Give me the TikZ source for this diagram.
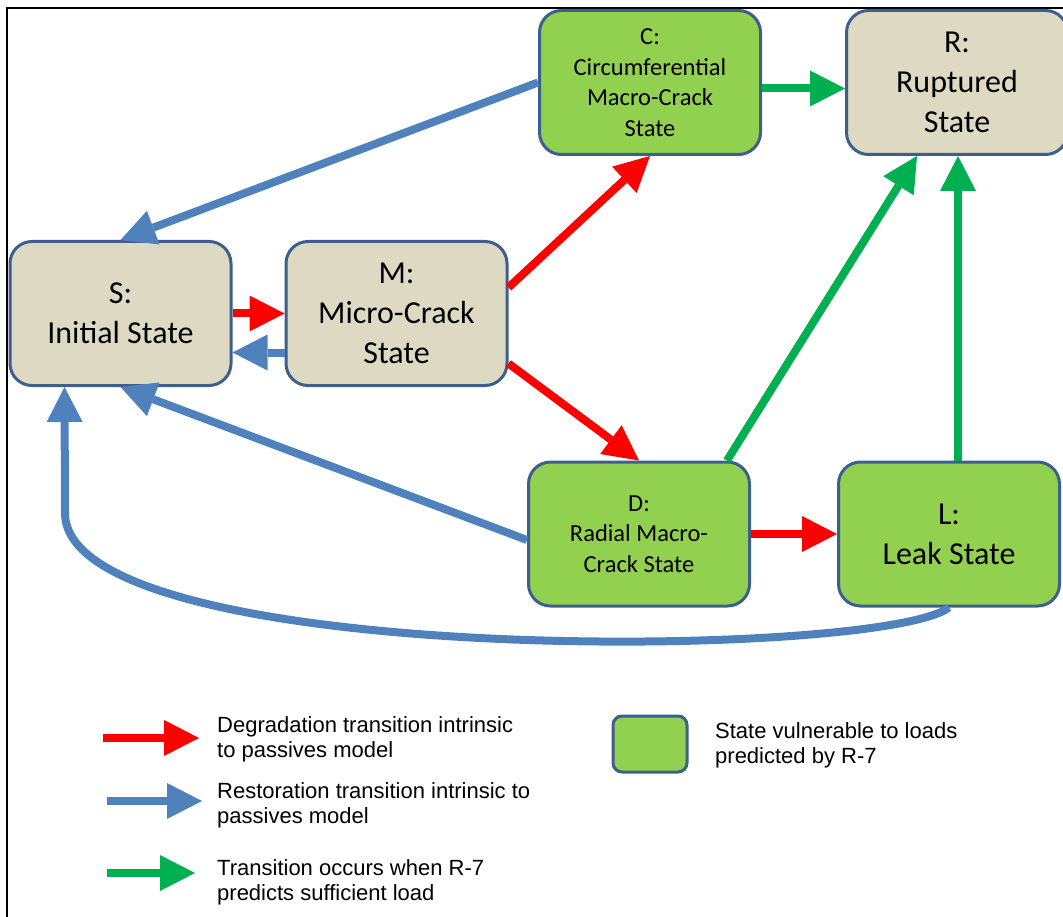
\documentclass[tikz,border=0pt]{standalone}
\usepackage{fontspec}
\setmainfont{Carlito}
\newfontfamily\legendfont{Liberation Sans}
\usepackage{tikz}
\usetikzlibrary{calc, arrows.meta}

\definecolor{stateline}{HTML}{3C5F8E}
\definecolor{statebeige}{HTML}{DDD9C3}
\definecolor{stategreen}{HTML}{92D050}
\definecolor{degred}{HTML}{FF0000}
\definecolor{restblue}{HTML}{4F81BD}
\definecolor{loadgreen}{HTML}{00B050}

\tikzset{
    state/.style={rectangle, rounded corners=22pt, draw=stateline, line width=3pt, fill=statebeige, minimum width=221pt, minimum height=144pt, align=center, inner sep=0pt},
    vulnerable/.style={state, fill=stategreen},
    bigtext/.style={font=\fontsize{32}{40}\selectfont},
    smalltext/.style={font=\fontsize{24.5}{30.5}\selectfont},
    degrade/.style={draw=degred, line width=8pt, -{Triangle[length=35pt, width=36pt, line width=0pt]}},
    restore/.style={degrade, draw=restblue},
    loadtrans/.style={degrade, draw=loadgreen},
    legendtext/.style={anchor=west, align=left, inner sep=0pt, font=\legendfont\fontsize{22}{25}\selectfont}
}

\begin{document}
\begin{tikzpicture}[x=1pt, y=-1pt]

        \useasboundingbox (0,0) rectangle (1063,917);

        %% Frame
        \draw [line width=1.5pt] (7,8) rectangle (1080,940);

        %% States
        \node (S) [state, bigtext] at (120.5,313.5) {S:\\Initial State};
        \node (M) [state, bigtext] at (396.5,313.5) {M:\\Micro-Crack\\State};
        \node (C) [vulnerable, smalltext] at (650,82.5) {C:\\Circumferential\\Macro-Crack\\State};
        \node (R) [state, bigtext] at (957,82.5) {R:\\Ruptured\\State};
        \node (D) [vulnerable, smalltext] at (639,534) {D:\\Radial Macro-\\Crack State};
        \node (L) [vulnerable, bigtext] at (949,534) {L:\\Leak State};

        %% Degradation
        \draw [degrade] (S.east) -- (M.west);
        \draw [degrade] ($(M.east) + (0,-26)$) -- (C.south);
        \draw [degrade] ($(M.east) + (0,50)$) -- (D.north);
        \draw [degrade] (D.east) -- (L.west);

        %% Restoration
        \coordinate (Sup) at (65,513);
        \coordinate (Sfoot) at ($(S.south west)!0.25!(S.south east)$);
        \draw [restore] ($(M.west) + (0,39)$) -- ($(S.east) + (0,39)$);
        \draw [restore] (C.west) -- (S.north);
        \draw [restore] ($(D.west) + (0,6)$) -- (S.south);
        \draw [restore] (L.south) .. controls (880,660) and (65,668) .. (Sup) -- (Sfoot);

        %% Load driven
        \draw [loadtrans] ($(C.east) + (0,6)$) -- ($(R.west) + (0,6)$);
        \draw [loadtrans] ($(D.north) + (88,0)$) -- ($(R.south) + (-40,0)$);
        \draw [loadtrans] ($(L.north) + (9,0)$) -- ($(R.south) + (1,0)$);

        %% Legend
        \coordinate (degtail) at (103,738);
        \coordinate (deghead) at (199,738);
        \coordinate (resttail) at (107,801);
        \coordinate (resthead) at (202,801);
        \coordinate (loadtail) at (107,873);
        \coordinate (loadhead) at (195,873);
        \draw [degrade] (degtail) -- (deghead);
        \draw [restore] (resttail) -- (resthead);
        \draw [loadtrans] (loadtail) -- (loadhead);
        \node (degtext) [legendtext] at (217,739.5) {Degradation transition intrinsic\\to passives model};
        \node (resttext) [legendtext] at (217,805.5) {Restoration transition intrinsic to\\passives model};
        \node (loadtext) [legendtext] at (217,882.5) {Transition occurs when R-7\\predicts sufficient load};
        \node (vulnkey) [vulnerable, minimum width=74pt, minimum height=56pt, rounded corners=9pt] at (650,744) {};
        \node (vulntext) [legendtext] at (715,745.5) {State vulnerable to loads\\predicted by R-7};

\end{tikzpicture}
\end{document}
